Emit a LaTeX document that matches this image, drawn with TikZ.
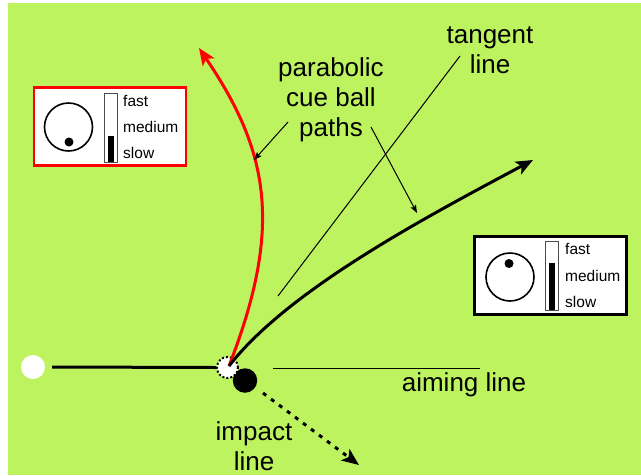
\documentclass[tikz,border=0pt]{standalone}
\usepackage{fontspec}
\setmainfont{Liberation Sans}
\usetikzlibrary{arrows.meta}
\definecolor{felt}{RGB}{190,243,96}
\tikzset{
  big/.style={font=\fontsize{26}{30}\selectfont, align=center, inner sep=0pt},
  small/.style={font=\fontsize{15.5}{18}\selectfont, inner sep=0pt, anchor=west},
  bigtip/.style={-{Stealth[length=17pt,width=14pt,inset=4pt]}},
  thintip/.style={-{Stealth[length=8pt,width=6pt,inset=1.5pt]}},
  path/.style={line width=3pt, line cap=round},
  panel/.style={draw, fill=white, line width=2.2pt, minimum width=152pt, minimum height=78pt, inner sep=0pt},
  spinball/.style={circle, draw, line width=1.6pt, minimum size=48pt, inner sep=0pt},
  spindot/.style={circle, fill=black, minimum size=9pt, inner sep=0pt},
  gauge/.style={draw=black!70, fill=white, line width=0.6pt, minimum width=13pt, minimum height=69pt, inner sep=0pt},
}
\begin{document}
\begin{tikzpicture}[x=1pt,y=-1pt]
\useasboundingbox (0,0) rectangle (641,475);
\fill[white] (0,0) rectangle (641,475);
\fill[felt] (8,3) rectangle (641,475);

% balls
\node[circle, fill=white, minimum size=24pt, inner sep=0pt] (cue) at (33,367) {};
\node[circle, fill=black, minimum size=24.5pt, inner sep=0pt] (obj) at (245,380.5) {};
\node[circle, fill=white, draw, dotted, line width=2pt, minimum size=21pt, inner sep=0pt] (ghost) at (227.5,367.5) {};
\coordinate (hit) at (229,366);

% cue stroke
\draw[path, line cap=butt] ([xshift=7pt]cue.east) -- (ghost.west);

% aiming line
\coordinate (aimA) at (273,368.5);
\coordinate (aimB) at (480,368.5);
\draw[line width=1pt] (aimA) -- (aimB);
\node[big] (aimtext) at (464,385) {aiming line};

% impact line
\coordinate (impA) at (263,393);
\coordinate (impB) at (359,465);
\draw[line width=3pt, dash pattern=on 4pt off 6pt, bigtip] (impA) -- (impB);
\node[big] (imptext) at (254,446) {impact\\line};

% tangent line
\coordinate (tanA) at (278,296);
\coordinate (tanB) at (460,56);
\draw[line width=1pt] (tanA) -- (tanB);
\node[big] (tantext) at (490,50) {tangent\\line};

% cue ball paths
\coordinate (redend) at (199,48);
\coordinate (blkend) at (533,160);
\draw[path, red, line cap=butt, bigtip] (hit) .. controls (284,225) and (268,150) .. (redend);
\draw[path, line cap=butt, bigtip] (hit) .. controls (288,290) and (426,217) .. (blkend);

% label
\node[big] (paratext) at (331,100) {parabolic\\cue ball\\paths};
\coordinate (la) at (288,122);
\coordinate (lb) at (254,160);
\coordinate (ra) at (371,127);
\coordinate (rb) at (417,213);
\draw[line width=1pt, thintip] (la) -- (lb);
\draw[line width=1pt, thintip] (ra) -- (rb);

% red panel (draw shot)
\node[panel, draw=red] (redbox) at (110,126.5) {};
\node[spinball] (redball) at (68.5,127) {};
\node[spindot] (reddot) at (69,142) {};
\node[gauge] (redgauge) at (111,127.5) {};
\fill (108.3,136) rectangle (113.8,161.5);
\node[small] (rfast) at (123,101) {fast};
\node[small] (rmed) at (123,127) {medium};
\node[small] (rslow) at (123,153) {slow};

% black panel (follow shot)
\node[panel] (blkbox) at (550.5,275.5) {};
\node[spinball] (blkball) at (510,277) {};
\node[spindot] (blkdot) at (509,263.5) {};
\node[gauge] (blkgauge) at (551.5,275.5) {};
\fill (549,262.5) rectangle (554.5,309.5);
\node[small] (bfast) at (565,249) {fast};
\node[small] (bmed) at (565,276) {medium};
\node[small] (bslow) at (565,302) {slow};
\end{tikzpicture}
\end{document}
